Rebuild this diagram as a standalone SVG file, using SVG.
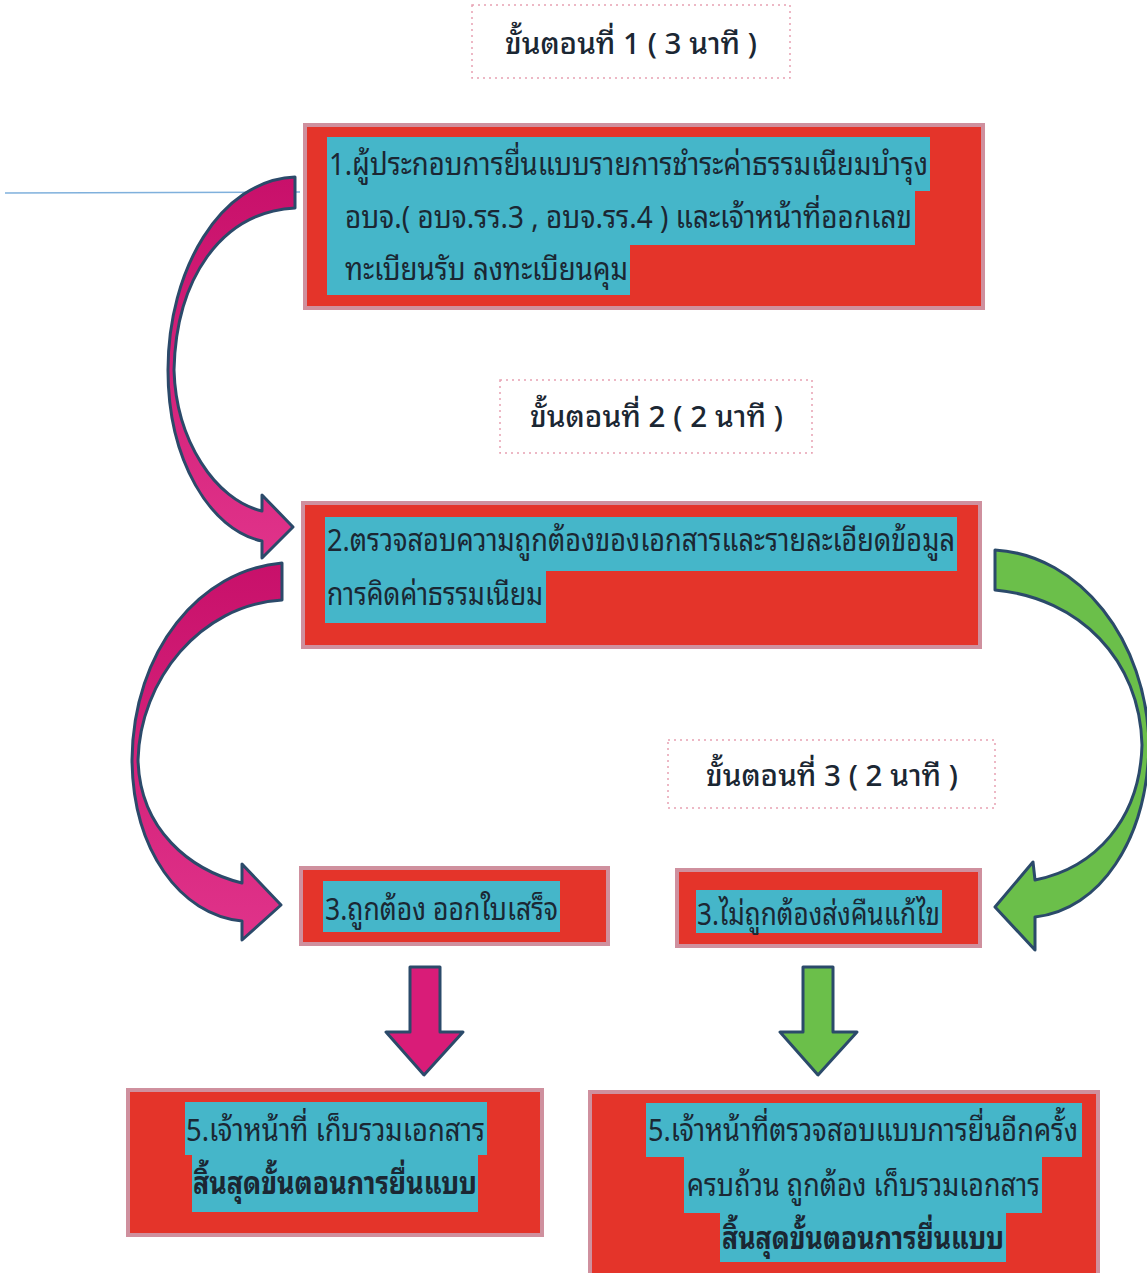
<svg xmlns="http://www.w3.org/2000/svg" width="1147" height="1273" viewBox="0 0 1147 1273">
<defs>
<linearGradient id="pg" x1="0" y1="0" x2="0" y2="1">
<stop offset="0" stop-color="#c8106a"/>
<stop offset="1" stop-color="#e0338a"/>
</linearGradient>
</defs>
<style>
.box{fill:#e4342a;stroke:#cf909e;stroke-width:4}
.hl{fill:#45b6c9}
.t{font-family:"Noto Sans Thai Looped","Waree","Loma","Garuda","Tlwg Typo","Norasi","Noto Sans Thai","Noto Sans","Liberation Sans",sans-serif;font-size:31px;fill:#1b2733}
.b{font-weight:bold}
.step{fill:#ffffff;stroke:#e7a1b2;stroke-width:1.5;stroke-dasharray:2 4}
.st{font-family:"Noto Sans Thai Looped","Waree","Loma","Garuda","Tlwg Typo","Norasi","Noto Sans Thai","Noto Sans","Liberation Sans",sans-serif;font-size:29px;font-weight:500;fill:#1b2733}
.pink{fill:url(#pg);stroke:#2b4a6a;stroke-width:3;stroke-linejoin:round}
.pinks{fill:#d91c78;stroke:#2b4a6a;stroke-width:3;stroke-linejoin:round}
.green{fill:#6bbf4a;stroke:#2b4a6a;stroke-width:3;stroke-linejoin:round}
</style>
<rect width="1147" height="1273" fill="#ffffff"/>
<line x1="5" y1="193" x2="300" y2="192" stroke="#7fb0dc" stroke-width="1.5"/>

<g id="step1">
<rect class="step" x="472" y="5" width="318" height="73"/>
<text class="st" x="505" y="54" textLength="252" lengthAdjust="spacingAndGlyphs">ขั้นตอนที่ 1 ( 3 นาที )</text>
</g>
<g id="step2">
<rect class="step" x="500" y="380" width="312" height="73"/>
<text class="st" x="530" y="427" textLength="253" lengthAdjust="spacingAndGlyphs">ขั้นตอนที่ 2 ( 2 นาที )</text>
</g>
<g id="step3">
<rect class="step" x="668" y="740" width="327" height="68"/>
<text class="st" x="706" y="786" textLength="252" lengthAdjust="spacingAndGlyphs">ขั้นตอนที่ 3 ( 2 นาที )</text>
</g>

<g id="connectors">
<path class="pink" d="M295,177 C220,180 168,270 168,370 C168,460 210,530 262,541 L262,558 L293,527 L262,495 L262,511 C215,500 176,440 174,370 C176,280 220,212 295,208 Z"/>
<path class="pink" d="M282,563 C200,570 133,650 132,760 C133,850 180,915 242,921 L242,940 L281,905 L242,864 L242,883 C190,870 140,830 138,760 C140,680 200,605 282,600 Z"/>
<path class="green" d="M995,550 C1080,555 1147,640 1149,745 C1147,840 1100,910 1035,917 L1035,950 L995,907 L1033,862 L1035,880 C1095,868 1140,820 1142,745 C1140,660 1080,598 995,590 Z"/>
<path class="pinks" d="M410,967 H440 V1032 H463 L424,1075 L386,1032 H410 Z"/>
<path class="green" d="M803,967 H833 V1032 H857 L818,1075 L780,1032 H803 Z"/>
</g>

<g id="node1">
<rect class="box" x="305" y="125" width="678" height="183"/>
<path class="hl" d="M327,137 H930 V191 H915 V245 H630 V295 H327 Z"/>
<text class="t" x="329" y="175" textLength="599" lengthAdjust="spacingAndGlyphs">1.ผู้ประกอบการยื่นแบบรายการชำระค่าธรรมเนียมบำรุง</text>
<text class="t" x="345" y="228" textLength="567" lengthAdjust="spacingAndGlyphs">อบจ.( อบจ.รร.3 , อบจ.รร.4 ) และเจ้าหน้าที่ออกเลข</text>
<text class="t" x="345" y="280" textLength="283" lengthAdjust="spacingAndGlyphs">ทะเบียนรับ ลงทะเบียนคุม</text>
</g>

<g id="node2">
<rect class="box" x="303" y="503" width="677" height="144"/>
<path class="hl" d="M325,517 H957 V571 H546 V623 H325 Z"/>
<text class="t" x="327" y="551" textLength="628" lengthAdjust="spacingAndGlyphs">2.ตรวจสอบความถูกต้องของเอกสารและรายละเอียดข้อมูล</text>
<text class="t" x="327" y="605" textLength="216" lengthAdjust="spacingAndGlyphs">การคิดค่าธรรมเนียม</text>
</g>

<g id="node3a">
<rect class="box" x="301" y="868" width="307" height="76"/>
<rect class="hl" x="323" y="881" width="237" height="51"/>
<text class="t" x="325" y="920" textLength="233" lengthAdjust="spacingAndGlyphs">3.ถูกต้อง ออกใบเสร็จ</text>
</g>

<g id="node3b">
<rect class="box" x="677" y="870" width="303" height="76"/>
<rect class="hl" x="696" y="890" width="246" height="43"/>
<text class="t" x="697" y="925" textLength="243" lengthAdjust="spacingAndGlyphs">3.ไม่ถูกต้องส่งคืนแก้ไข</text>
</g>

<g id="node5a">
<rect class="box" x="128" y="1090" width="414" height="145"/>
<path class="hl" d="M185,1102 H487 V1155 H478 V1212 H192 V1155 H185 Z"/>
<text class="t" x="186" y="1141" textLength="299" lengthAdjust="spacingAndGlyphs">5.เจ้าหน้าที่ เก็บรวมเอกสาร</text>
<text class="t b" x="193" y="1194" textLength="284" lengthAdjust="spacingAndGlyphs">สิ้นสุดขั้นตอนการยื่นแบบ</text>
</g>

<g id="node5b">
<rect class="box" x="590" y="1092" width="508" height="185"/>
<path class="hl" d="M646,1103 H1082 V1157 H1042 V1213 H1006 V1262 H720 V1213 H684 V1157 H646 Z"/>
<text class="t" x="648" y="1141" textLength="430" lengthAdjust="spacingAndGlyphs">5.เจ้าหน้าที่ตรวจสอบแบบการยื่นอีกครั้ง</text>
<text class="t" x="687" y="1196" textLength="353" lengthAdjust="spacingAndGlyphs">ครบถ้วน ถูกต้อง เก็บรวมเอกสาร</text>
<text class="t b" x="722" y="1249" textLength="282" lengthAdjust="spacingAndGlyphs">สิ้นสุดขั้นตอนการยื่นแบบ</text>
</g>
</svg>
